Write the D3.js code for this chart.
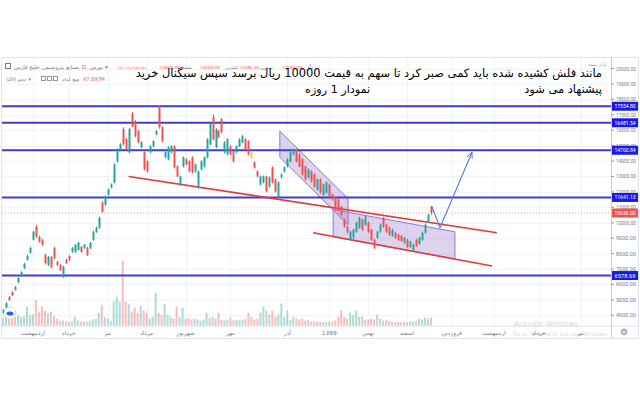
<!DOCTYPE html>
<html><head><meta charset="utf-8">
<script src="https://cdn.jsdelivr.net/npm/d3@7"></script>
<style>body{margin:0;background:#fff}svg{display:block}</style>
</head><body>
<svg id="c" width="640" height="400"></svg>
<script>
// ---- data (daily candles) ----
const opens=[4130,4330,5180,5500,5830,6150,6550,7070,7590,8050,8890,9740,9090,8890,7915,7263,7785,8372,7460,7263,6480,7590,7850,8110,8110,8241,8437,8372,8372,8372,8893,9415,9676,11306,11176,11828,12285,12611,13980,14763,16067,15415,14568,17046,16524,15937,14894,14568,13980,14568,14959,15741,17568,16198,14241,14111,14568,14959,13654,12480,13654,14111,13980,14241,13328,12285,13459,13654,14241,15089,16850,14894,15937,16720,14568,14437,14959,14633,14568,14959,15220,15415,15285,14568,13915,13328,12480,12611,13002,12350,13589,12806,11632,12937,13328,13654,13980,14437,14763,14437,14111,13654,12937,13328,13132,12154,12806,11828,11959,12480,11828,11632,11502,11046,10198,9741,8893,9024,9415,9676,10198,9872,10002,9546,8893,9024,9415,10328,9872,9676,9154,9350,9219,9154,8698,8893,8437,8241,8893,8632,8893,9350,10067,11080];
const highs=[4400,4850,5250,5560,5900,6480,6850,7400,7920,8450,9480,9870,9150,8950,8000,7850,7850,8450,7520,7300,7200,7650,7900,8420,8620,8760,8500,8620,8430,8750,9480,9740,10400,11400,11760,12220,12550,13850,14830,15150,16198,15480,16150,17176,16650,16000,15290,14630,14050,15020,15350,16000,17600,16260,14630,14960,15020,15020,13720,13060,14300,14180,14050,14300,13850,13400,14050,14300,15480,16460,17000,16130,16000,16790,15290,15480,15020,14700,15020,15480,15680,15480,15350,14630,13980,13400,13060,13060,13060,13000,13650,12870,12680,13200,13650,14180,14630,14800,14800,14500,14180,13720,13520,13400,13200,12870,12870,12550,12680,12550,11890,11700,11570,11110,10260,9800,9480,9610,10070,10390,10260,10460,10070,9610,8960,9480,9940,10390,9940,9740,9610,9415,9280,9220,9090,8960,8830,8630,8960,9090,9415,9940,10590,11080];
const lows=[4080,4300,4950,5250,5600,6100,6500,7000,7550,8000,8850,9050,8700,8500,7300,7200,7050,7650,7200,6880,6430,7330,7520,8050,8050,8200,8050,8300,7850,8300,8830,9350,9620,10650,11100,11760,12220,12550,13900,14700,15000,14700,14500,16200,15550,15150,14830,13400,13260,14500,14900,15680,16100,15220,14180,14050,14500,13520,12940,12400,13590,13720,13260,13200,13260,12200,13400,13590,14180,15020,15350,14830,15480,15800,14500,14370,14370,13920,14500,14900,15150,14700,14370,14180,13520,12940,12420,12550,11960,12280,12550,11960,11600,12870,13260,13590,13920,14370,13920,13590,13060,12740,12870,12610,12280,12090,11890,11760,11890,11630,11440,10790,10790,10460,9680,9300,8830,8960,9350,9610,9480,9810,9350,8830,8300,8960,9350,9680,9350,9150,9090,8960,8830,8760,8630,8370,8370,8150,8440,8570,8830,9290,10000,10500];
const closes=[4330,4780,4980,5310,5630,6420,6810,7330,7850,8370,9420,9090,8760,8570,7394,7785,7133,7720,7263,6937,7133,7394,7590,8370,8567,8698,8111,8567,7915,8698,9415,9676,10328,10720,11698,12154,12480,13785,14763,15089,15089,14763,16067,16263,15611,15220,15220,13459,13328,14959,15285,15937,16198,15285,14568,14894,14959,13589,13002,13002,14241,13785,13328,13263,13785,13328,13980,14241,15415,16394,15415,16067,15546,15872,15220,15415,14437,13980,14959,15415,15611,14763,14437,14241,13589,13002,13002,13002,12024,12937,12611,12024,12611,13132,13589,14111,14568,14763,13980,13654,13132,12806,13459,12676,12350,12806,11959,12480,12611,11698,11502,10850,10850,10524,9741,9415,9415,9546,10002,10328,9546,10393,9415,8893,8372,9415,9872,9741,9415,9219,9546,9024,8893,8828,9024,8437,8763,8567,8502,9024,9350,9872,10524,10630];
const volumes=[45,50,45,55,50,60,50,55,108,60,65,148,80,108,86,70,80,57,40,28,30,25,20,25,51,30,22,25,20,28,35,40,74,120,50,40,28,137,165,137,370,137,125,80,103,70,114,86,74,40,50,188,74,60,125,60,51,40,108,50,103,40,45,34,40,35,28,35,74,45,51,40,74,34,30,34,46,30,34,30,34,40,74,51,35,40,74,108,86,63,86,51,63,125,50,86,34,51,40,35,40,30,34,23,25,25,23,20,20,23,20,30,51,86,51,40,74,60,86,50,51,34,35,40,35,63,40,30,34,25,23,20,23,20,23,20,25,23,28,40,35,46,40,48];
const markedCandles=[83];
const priceTicks=[4000,5000,6000,7000,8000,9000,10000,11000,12000,13000,14000,15000,16000,17000,18000,19000,20000];
const levels=[17554.80,16481.54,14700.84,11641.13,6578.69];
const lastPrice=10630.00;
const monthIdx=[10,22,35,48,61,76,95,109,122,135,150,164,179,193];
const monthLabels=["اردیبهشت","خرداد","تیر","مرداد","شهریور","مهر","آذر","1399","بهمن","اسفند","فروردین","اردیبهشت","خرداد","تیر"];
const upperTrend=[[42,13002],[165,9350]];
const lowerTrend=[[103.6,9350],[163.4,7198]];
const channel1=[[92.5,15937],[115.3,11567],[115.3,9872],[92.5,14241]];
const channel2=[[110.3,10850],[151,9415],[151,7655],[110.3,9089]];
const arrowPath=[[143.3,11046],[146,9676],[156.7,14568]];
const titleLine1="مانند فلش کشیده شده باید کمی صبر کرد تا سهم به قیمت 10000 ریال برسد سپس سیگنال خرید";
const titleLine2a="پیشنهاد می شود";
const titleLine2b="نمودار 1 روزه";

(function(){
const svg=d3.select("#c");
const W=640, plotR=611, topY=57, volBase=325.7, bottomY=338;
const x=d3.scaleLinear().domain([0,143]).range([3,431]);
const y=d3.scaleLinear().domain([4000,20000]).range([315.3,68.5]);
const yv=d3.scaleLinear().domain([0,370]).range([volBase,volBase-65]);
const up="#26a69a", dn="#ef5350", grey="#787b86";
const font="'DejaVu Sans', sans-serif";
const numFont="'Liberation Sans Narrow', 'Roboto', sans-serif";
function fit(sel,target){const w=sel.node().getComputedTextLength();const fs=parseFloat(sel.attr("font-size"));sel.attr("font-size",fs*target/w);return sel;}

svg.append("rect").attr("width",W).attr("height",400).attr("fill","#fff");
svg.append("rect").attr("x",1.5).attr("y",topY+0.5).attr("width",W-3).attr("height",bottomY-topY).attr("fill","none").attr("stroke","#e0e3eb");
svg.append("g").selectAll("line").data(priceTicks).join("line")
  .attr("x1",2).attr("x2",plotR).attr("y1",d=>Math.round(y(d))+0.5).attr("y2",d=>Math.round(y(d))+0.5)
  .attr("stroke","#f0f3fa");
svg.append("g").selectAll("line").data(monthIdx).join("line")
  .attr("x1",d=>Math.round(x(d))+0.5).attr("x2",d=>Math.round(x(d))+0.5).attr("y1",topY+1).attr("y2",volBase)
  .attr("stroke","#f0f3fa");

const pt=d=>[x(d[0]),y(d[1])];
[channel1,channel2].forEach(c=>{
  svg.append("polygon").attr("points",c.map(pt).map(p=>p.join(",")).join(" "))
    .attr("fill","rgba(149,117,205,0.32)").attr("stroke","#9575cd").attr("stroke-width",1);
});

svg.append("g").selectAll("rect").data(volumes).join("rect")
  .attr("x",(d,i)=>x(i)-1).attr("width",2)
  .attr("y",d=>yv(d)).attr("height",d=>volBase-yv(d))
  .attr("fill",(d,i)=>closes[i]>=opens[i]?"rgba(38,166,154,0.38)":"rgba(239,83,80,0.38)");

svg.append("line").attr("x1",2).attr("x2",plotR).attr("y1",y(lastPrice)).attr("y2",y(lastPrice))
  .attr("stroke","#ef9a9a").attr("stroke-dasharray","1,2").attr("stroke-width",1);

svg.append("g").selectAll("line").data(levels).join("line")
  .attr("x1",2).attr("x2",plotR).attr("y1",d=>y(d)).attr("y2",d=>y(d))
  .attr("stroke","#3d3dd4").attr("stroke-width",2);

[upperTrend,lowerTrend].forEach(t=>{
  svg.append("line").attr("x1",x(t[0][0])).attr("y1",y(t[0][1])).attr("x2",x(t[1][0])).attr("y2",y(t[1][1]))
    .attr("stroke","#e53935").attr("stroke-width",1.6);
});

const cg=svg.append("g");
const idx=d3.range(opens.length);
const col=i=>markedCandles.includes(i)?"#f7c53b":(closes[i]>=opens[i]?up:dn);
cg.selectAll("line").data(idx).join("line")
  .attr("x1",i=>Math.round(x(i))+0.5).attr("x2",i=>Math.round(x(i))+0.5)
  .attr("y1",i=>y(highs[i])).attr("y2",i=>y(lows[i])).attr("stroke",col).attr("stroke-width",1);
cg.selectAll("rect").data(idx).join("rect")
  .attr("x",i=>Math.round(x(i))-0.5).attr("width",2)
  .attr("y",i=>y(Math.max(opens[i],closes[i])))
  .attr("height",i=>Math.max(1,Math.abs(y(opens[i])-y(closes[i]))))
  .attr("fill",col);

const defs=svg.append("defs");
defs.append("marker").attr("id","ah").attr("viewBox","0 0 10 10").attr("refX",9).attr("refY",5)
  .attr("markerWidth",7).attr("markerHeight",7).attr("orient","auto").attr("markerUnits","userSpaceOnUse")
  .append("path").attr("d","M0,1 L9,5 L0,9").attr("fill","none").attr("stroke","#5677d6").attr("stroke-width",1.4);
svg.append("path").attr("d",d3.line()(arrowPath.map(pt))).attr("fill","none")
  .attr("stroke","#5677d6").attr("stroke-width",1.1).attr("marker-end","url(#ah)");

// price axis
svg.append("line").attr("x1",plotR+0.5).attr("x2",plotR+0.5).attr("y1",topY).attr("y2",bottomY).attr("stroke","#c9ccd4");
const ax=svg.append("g");
ax.selectAll("line").data(priceTicks).join("line")
  .attr("x1",plotR).attr("x2",plotR+3).attr("y1",d=>y(d)).attr("y2",d=>y(d)).attr("stroke","#9598a1");
ax.selectAll("text").data(priceTicks).join("text")
  .attr("x",616).attr("y",d=>y(d)+2).attr("font-size",6).attr("font-family",numFont).attr("fill",grey)
  .attr("textLength",20).attr("lengthAdjust","spacingAndGlyphs")
  .text(d=>d.toFixed(2));
const lv=svg.append("g").selectAll("g").data(levels).join("g");
lv.append("rect").attr("x",612).attr("y",d=>y(d)-4.5).attr("width",26).attr("height",9).attr("fill","#1a1ae6");
lv.append("text").attr("x",614.5).attr("y",d=>y(d)+2).attr("font-size",6).attr("font-family",numFont).attr("fill","#fff")
  .attr("textLength",21).attr("lengthAdjust","spacingAndGlyphs").text(d=>d.toFixed(2));
svg.append("rect").attr("x",612).attr("y",y(lastPrice)-4.5).attr("width",26).attr("height",9).attr("fill","#ef5350");
svg.append("text").attr("x",614.5).attr("y",y(lastPrice)+2).attr("font-size",6).attr("font-family",numFont).attr("fill","#fff")
  .attr("textLength",21).attr("lengthAdjust","spacingAndGlyphs").text(lastPrice.toFixed(2));

// time axis
svg.append("line").attr("x1",2).attr("x2",W-2).attr("y1",volBase+0.5).attr("y2",volBase+0.5).attr("stroke","#e0e3eb");
svg.append("g").selectAll("text").data(monthIdx).join("text")
  .attr("x",d=>x(d)).attr("y",334.5).attr("text-anchor","middle").attr("font-size",5.8).attr("font-family",font).attr("fill",grey)
  .text((d,i)=>monthLabels[i]);
svg.append("text").attr("x",624).attr("y",335).attr("text-anchor","middle").attr("font-size",9).attr("fill",grey).text("⚙");

svg.append("circle").attr("cx",10).attr("cy",313).attr("r",6).attr("fill","#fff").attr("stroke","#d6dae3");
svg.append("ellipse").attr("cx",10).attr("cy",313.5).attr("rx",3.5).attr("ry",2).attr("fill","#2962ff");

// legend
const lg=svg.append("g").attr("font-family",font);
lg.append("rect").attr("x",5.5).attr("y",63.5).attr("width",5).attr("height",5).attr("fill","none").attr("stroke",grey);
fit(lg.append("text").attr("x",14).attr("y",68.5).attr("font-size",6).attr("fill",grey).text("صنایع پتروشیمی خلیج فارس, D, بورس ▾"),94);
const rv=[["(%1.33+)140.00+",118,dn,29],["10630.00",160,dn,20],["بسته",182,grey,10],["10500.00",200,dn,20],["کمترین",225,grey,13],["11080.00",240,dn,19],["بیشترین",260,grey,13],["11080.00",282,dn,20],["باز",306,grey,7]];
rv.forEach(r=>fit(lg.append("text").attr("x",r[1]).attr("y",68.5).attr("font-size",6).attr("fill",r[2]).text(r[0]),r[3]));
fit(lg.append("text").attr("x",6).attr("y",81).attr("font-size",6).attr("fill",grey).text("(20) حجم ▾"),25);
[41,47,53].forEach(xx=>lg.append("rect").attr("x",xx+0.5).attr("y",76.5).attr("width",4).attr("height",4).attr("fill","none").attr("stroke","#9598a1"));
fit(lg.append("text").attr("x",62).attr("y",81).attr("font-size",6).attr("fill",grey).text("هیچ کدام"),17);
fit(lg.append("text").attr("x",83).attr("y",81).attr("font-size",6).attr("fill",dn).text("47.897M"),22);
lg.append("text").attr("x",607).attr("y",66).attr("text-anchor","end").attr("font-size",4.5).attr("fill","#9598a1").text("بازار بسته");

// title
fit(svg.append("text").attr("x",602).attr("y",77).attr("text-anchor","end").attr("font-family",font).attr("font-size",14).attr("fill","#000").text(titleLine1),467);
fit(svg.append("text").attr("x",602).attr("y",93).attr("text-anchor","end").attr("font-family",font).attr("font-size",14).attr("fill","#000").text(titleLine2a),78);
fit(svg.append("text").attr("x",370).attr("y",93).attr("text-anchor","end").attr("font-family",font).attr("font-size",14).attr("fill","#000").text(titleLine2b),65);

// watermark
fit(svg.append("text").attr("x",514).attr("y",326).attr("font-family",font).attr("font-size",9.5).attr("fill","rgba(0,0,0,0.2)").text("Activate Windows"),64);
fit(svg.append("text").attr("x",513).attr("y",336).attr("font-family",font).attr("font-size",7).attr("fill","rgba(0,0,0,0.2)").text("Go to Settings to activate Windows."),96);
})();
</script>
</body></html>
